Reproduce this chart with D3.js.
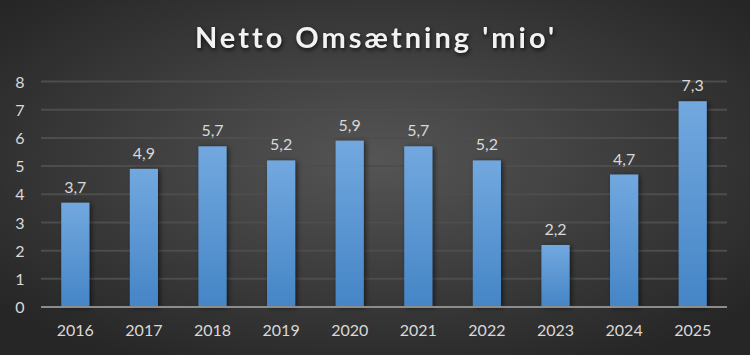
<!DOCTYPE html>
<html><head><meta charset="utf-8">
<script src="https://cdn.jsdelivr.net/npm/d3@7"></script>
<style>html,body{margin:0;padding:0;background:#333;}svg{display:block;}</style>
</head><body>
<script>
const years = ["2016","2017","2018","2019","2020","2021","2022","2023","2024","2025"];
const values = [3.7,4.9,5.7,5.2,5.9,5.7,5.2,2.2,4.7,7.3];
const yTicks = [0,1,2,3,4,5,6,7,8];
const title = "Netto Omsætning 'mio'";

const W = 750, H = 355;
const margin = {left:41, right:23, top:81.5, bottom:48};
const svg = d3.select("body").append("svg").attr("width",W).attr("height",H);
const defs = svg.append("defs");
const bg = defs.append("radialGradient").attr("id","bg").attr("cx","50%").attr("cy","45%").attr("r","65%");
bg.append("stop").attr("offset","0%").attr("stop-color","#555555");
bg.append("stop").attr("offset","100%").attr("stop-color","#262626");
const bar = defs.append("linearGradient").attr("id","bar").attr("x1",0).attr("y1",0).attr("x2",0).attr("y2",1);
bar.append("stop").attr("offset","0%").attr("stop-color","#72a8df");
bar.append("stop").attr("offset","100%").attr("stop-color","#4585c6");
const sh = defs.append("filter").attr("id","sh").attr("x","-30%").attr("y","-10%").attr("width","160%").attr("height","120%");
sh.append("feDropShadow").attr("dx",2).attr("dy",1).attr("stdDeviation",2.5).attr("flood-color","#000").attr("flood-opacity",0.55);

svg.append("rect").attr("width",W).attr("height",H).attr("fill","url(#bg)");

const x = d3.scaleBand().domain(years).range([margin.left, W-margin.right]).paddingInner(0.59).paddingOuter(0.295);
const y = d3.scaleLinear().domain([0,8]).range([H-margin.bottom, margin.top]);

// gridlines
svg.append("g").selectAll("line").data(yTicks.filter(d=>d>0)).join("line")
  .attr("x1",margin.left).attr("x2",W-margin.right)
  .attr("y1",d=>y(d)).attr("y2",d=>y(d))
  .attr("stroke","#4d4d4d").attr("stroke-width",2);

// y axis labels
const yAxis = d3.axisLeft(y).tickValues(yTicks).tickSize(0).tickPadding(0).tickFormat(d3.format("d"));
const ya = svg.append("g").attr("transform",`translate(20,0)`).call(yAxis);
ya.select(".domain").remove();
ya.selectAll("text").attr("fill","#d9d9d9").attr("font-family","Lato, sans-serif").attr("font-size",16).attr("text-anchor","middle").attr("dy","0.35em");

// bars
svg.append("g").selectAll("rect").data(values).join("rect")
  .attr("x",(d,i)=>x(years[i])).attr("width",x.bandwidth())
  .attr("y",d=>y(d)).attr("height",d=>y(0)-y(d))
  .attr("fill","url(#bar)").attr("filter","url(#sh)");

// baseline
svg.append("line").attr("x1",margin.left).attr("x2",W-margin.right)
  .attr("y1",y(0)).attr("y2",y(0)).attr("stroke","#8c8c8c").attr("stroke-width",2);

// x axis labels
const xAxis = d3.axisBottom(x).tickSize(0).tickPadding(0);
const xa = svg.append("g").attr("transform",`translate(0,${y(0)+23})`).call(xAxis);
xa.select(".domain").remove();
xa.selectAll("text").attr("fill","#d9d9d9").attr("font-family","Lato, sans-serif").attr("font-size",16).attr("dy","0.35em");

// value labels
svg.append("g").selectAll("text").data(values).join("text")
  .attr("x",(d,i)=>x(years[i])+x.bandwidth()/2).attr("y",d=>y(d)-10)
  .attr("text-anchor","middle").attr("fill","#d9d9d9")
  .attr("font-family","Lato, sans-serif").attr("font-size",16)
  .text(d=>d3.format(".1f")(d).replace(".",","));

// title
svg.append("text").attr("x",W/2+1).attr("y",48).attr("text-anchor","middle")
  .attr("fill","#f2f2f2").attr("font-family","Lato, sans-serif").attr("font-weight","bold")
  .attr("font-size",29).attr("letter-spacing","3px")
  .style("filter","drop-shadow(1px 2px 2px rgba(0,0,0,0.7))")
  .text(title);
</script>
</body></html>
